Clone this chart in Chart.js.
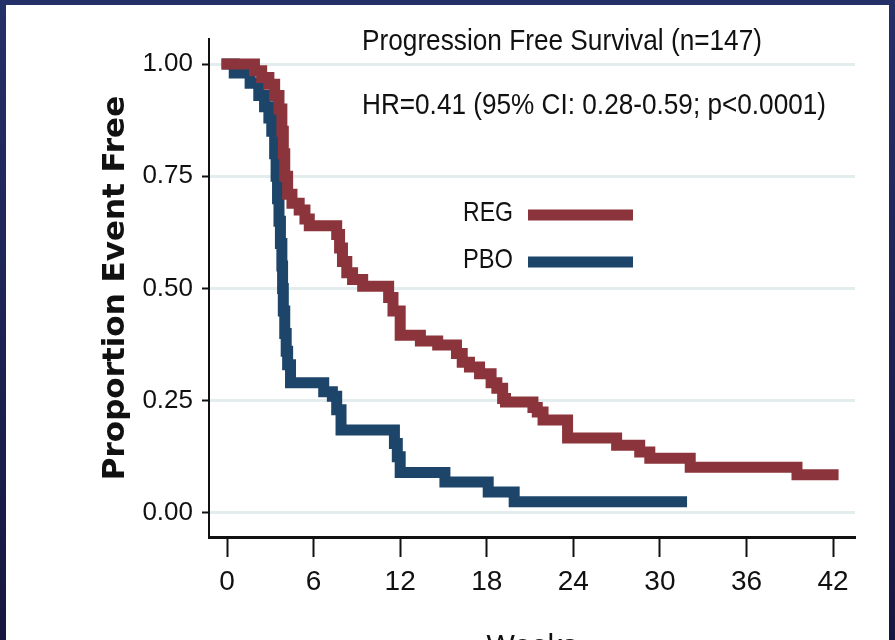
<!DOCTYPE html>
<html>
<head>
<meta charset="utf-8">
<script src="https://cdn.jsdelivr.net/npm/chart.js@4.4.1/dist/chart.umd.min.js"></script>
<style>
  html, body { margin: 0; padding: 0; width: 895px; height: 640px; overflow: hidden; }
  body { background: linear-gradient(to bottom, #243068, #17163f); }
  #frame { position: absolute; left: 6px; top: 5px; width: 883px; height: 700px; background: #fff; overflow: hidden; }
  canvas { display: block; }
</style>
</head>
<body>
<div id="frame"><canvas id="kmChart" width="883" height="680"></canvas></div>
<script>
// Kaplan-Meier steps (weeks, proportion event free)
const regWeeks = [0, 1.9, 2.4, 2.9, 3.3, 3.6, 3.8, 3.9, 4.0, 4.2, 4.5, 5.0, 5.4, 5.7, 7.6, 7.8, 8.0, 8.3, 8.7, 9.4,
  11.2, 11.5, 12.0, 13.4, 14.6, 15.9, 16.3, 16.8, 17.5, 18.3, 18.7, 19.1, 19.3, 21.2, 21.5, 21.9, 23.6, 27.0, 28.6, 29.3,
  32.1, 39.5, 42.0];
const regSurv = [1.0, 0.985, 0.97, 0.955, 0.93, 0.90, 0.85, 0.80, 0.75, 0.71, 0.69, 0.675, 0.655, 0.64, 0.62, 0.59, 0.56, 0.535, 0.52, 0.505,
  0.48, 0.45, 0.396, 0.383, 0.374, 0.355, 0.336, 0.325, 0.31, 0.29, 0.278, 0.255, 0.247, 0.235, 0.225, 0.207, 0.167, 0.151, 0.136, 0.122,
  0.102, 0.085, 0.085];

const pboWeeks = [0, 0.5, 1.6, 2.2, 2.6, 2.9, 3.1, 3.3, 3.4, 3.5, 3.6, 3.7, 3.8, 3.85, 3.9, 4.0, 4.1, 4.2, 4.4, 6.7,
  7.3, 7.6, 7.9, 11.6, 11.8, 12.0, 15.1, 18.1, 19.9, 31.5];
const pboSurv = [1.0, 0.98, 0.957, 0.93, 0.905, 0.88, 0.85, 0.80, 0.75, 0.70, 0.65, 0.60, 0.55, 0.50, 0.45, 0.40, 0.36, 0.33, 0.29, 0.27,
  0.26, 0.23, 0.185, 0.155, 0.125, 0.09, 0.069, 0.047, 0.025, 0.025];

const xTicks = [0, 6, 12, 18, 24, 30, 36, 42];
const yTicks = [0, 0.25, 0.5, 0.75, 1.0];
const titleLines = ['Progression Free Survival (n=147)', 'HR=0.41 (95% CI: 0.28-0.59; p<0.0001)'];

const sans = "'Liberation Sans', Arial, sans-serif";
Chart.defaults.color = '#111';
Chart.defaults.font.family = sans;

// titles + legend sit inside the plot, so draw them by hand
// (maxWidth squeezes the text to the narrow look of the original)
const annotate = {
  id: 'annotate',
  afterDatasetsDraw(chart) {
    const c = chart.ctx;
    c.save();
    c.fillStyle = '#111';
    c.textBaseline = 'middle';
    c.textAlign = 'left';
    c.font = '30px ' + sans;
    c.fillText(titleLines[0], 356, 37, 400);
    c.fillText(titleLines[1], 356, 101, 464);
    c.font = '28px ' + sans;
    chart.data.datasets.forEach((ds, i) => {
      let y = 208 + i * 47;
      c.fillText(ds.label, 457, y, 50);
      c.strokeStyle = ds.borderColor;
      c.lineWidth = 11;
      c.beginPath();
      c.moveTo(522, y + 2);
      c.lineTo(627, y + 2);
      c.stroke();
    });
    c.restore();
  }
};

const toPts = (xs, ys) => xs.map((x, i) => ({ x: x, y: ys[i] }));

const ctx = document.getElementById('kmChart').getContext('2d');
const kmChart = new Chart(ctx, {
  type: 'line',
  data: {
    datasets: [
      {
        label: 'REG',
        data: toPts(regWeeks, regSurv),
        borderColor: '#8c343b',
        borderWidth: 11,
        stepped: 'before',
        pointRadius: 0,
        borderCapStyle: 'square',
        fill: false,
      },
      {
        label: 'PBO',
        data: toPts(pboWeeks, pboSurv),
        borderColor: '#1d456a',
        borderWidth: 11,
        stepped: 'before',
        pointRadius: 0,
        borderCapStyle: 'square',
        fill: false,
      },
    ],
  },
  options: {
    responsive: false,
    animation: false,
    layout: { padding: { left: 0, top: 34, right: 34, bottom: 0 } },
    plugins: {
      legend: { display: false },
      tooltip: { enabled: false },
    },
    scales: {
      x: {
        type: 'linear',
        min: -1.25,
        max: 43.52,
        afterFit: (s) => { s.height = 148; },
        afterBuildTicks: (s) => { s.ticks = xTicks.map(v => ({ value: v })); },
        grid: { drawOnChartArea: false, drawTicks: true, tickLength: 20, tickWidth: 2, tickColor: '#111' },
        border: { display: true, color: '#111', width: 3 },
        ticks: { font: { size: 28 }, padding: 8, maxRotation: 0, autoSkip: false },
        title: { display: true, text: 'Weeks', font: { size: 30 }, padding: { top: 0, bottom: 20 } },
      },
      y: {
        type: 'linear',
        min: -0.0535,
        max: 1.0557,
        afterFit: (s) => { s.width = 203; },
        afterBuildTicks: (s) => { s.ticks = yTicks.map(v => ({ value: v })); },
        grid: { color: '#e4eded', lineWidth: 3, drawTicks: true, tickLength: 7, tickWidth: 2, tickColor: '#111' },
        border: { display: true, color: '#111', width: 2 },
        ticks: { font: { size: 26 }, padding: 9, callback: (v) => Number(v).toFixed(2) },
        title: {
          display: true,
          text: 'Proportion Event Free',
          font: { family: "'DejaVu Sans', sans-serif", size: 31, weight: 'bold' },
          padding: { top: 91, bottom: 0 },
        },
      },
    },
  },
  plugins: [annotate],
});
</script>
</body>
</html>
